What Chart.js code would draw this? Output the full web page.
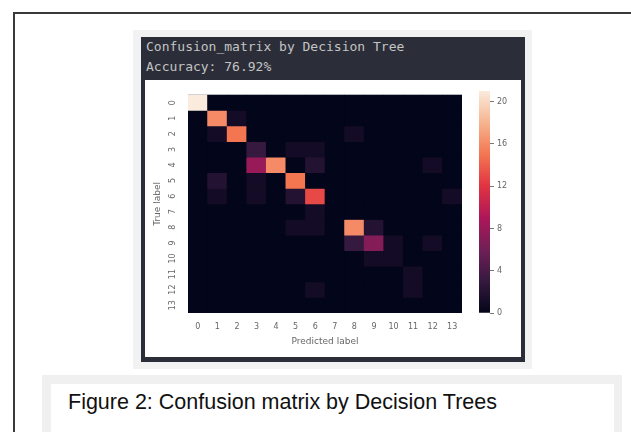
<!DOCTYPE html>
<html>
<head>
<meta charset="utf-8">
<script src="https://cdn.jsdelivr.net/npm/chart.js@4.4.0/dist/chart.umd.min.js"></script>
<style>
  body { margin:0; background:#fff; width:631px; height:432px; overflow:hidden; position:relative; font-family:"DejaVu Sans", sans-serif; }
  #frame { position:absolute; left:13px; top:12px; width:700px; height:500px; border-left:2px solid #3a3a3a; border-top:2px solid #3a3a3a; }
  #figbox { position:absolute; left:133px; top:30px; width:399px; height:339px; background:#f2f2f2; }
  #dark { position:absolute; left:141px; top:37px; width:384px; height:325px; background:#2b2e38; }
  #head { position:absolute; left:146px; top:37px; color:#c4c4c4; font:13px "DejaVu Sans Mono", monospace; line-height:20px; white-space:pre; }
  #white { position:absolute; left:145px; top:80px; width:376px; height:277px; background:#fff; }
  #matrix { position:absolute; left:145px; top:80px; }
  #cbar { position:absolute; left:470px; top:80px; }
  #capbox { position:absolute; left:42px; top:375px; width:580px; height:70px; background:#f0f0f0; }
  #capwhite { position:absolute; left:51px; top:384px; width:563px; height:60px; background:#fff; }
  #caption { position:absolute; left:68px; top:390px; font:21.5px "Liberation Sans", Arial, sans-serif; color:#111; white-space:pre; }
</style>
</head>
<body>
<div id="frame"></div>
<div id="figbox"></div>
<div id="dark"></div>
<div id="head">Confusion_matrix by Decision Tree
Accuracy: 76.92%</div>
<div id="white"></div>
<canvas id="matrix" width="330" height="277"></canvas>
<canvas id="cbar" width="51" height="277"></canvas>
<div id="capbox"></div>
<div id="capwhite"></div>
<div id="caption">Figure 2: Confusion matrix by Decision Trees</div>
<script>
const trueLabels = ['0','1','2','3','4','5','6','7','8','9','10','11','12','13']
const predLabels = ['0','1','2','3','4','5','6','7','8','9','10','11','12','13']
// rows = true label, columns = predicted label
const counts = [
  [21,0,0,0,0,0,0,0,0,0,0,0,0,0],
  [0,16,1,0,0,0,0,0,0,0,0,0,0,0],
  [0,1,15,0,0,0,0,0,1,0,0,0,0,0],
  [0,0,0,3,0,1,1,0,0,0,0,0,0,0],
  [0,0,0,8,16,0,2,0,0,0,0,0,1,0],
  [0,2,0,1,0,15,0,0,0,0,0,0,0,0],
  [0,1,0,1,0,2,13,0,0,0,0,0,0,1],
  [0,0,0,0,0,0,1,0,0,0,0,0,0,0],
  [0,0,0,0,0,1,1,0,16,2,0,0,0,0],
  [0,0,0,0,0,0,0,0,3,7,1,0,1,0],
  [0,0,0,0,0,0,0,0,0,1,1,0,0,0],
  [0,0,0,0,0,0,0,0,0,0,0,1,0,0],
  [0,0,0,0,0,0,1,0,0,0,0,1,0,0],
  [0,0,0,0,0,0,0,0,0,0,0,0,0,0]
]
const vmax = 21
const cbarTicks = [0,4,8,12,16,20]

// seaborn "rocket" colormap, sampled
const rocketStops = ['#03051a','#35193e','#701f57','#ad1759','#e13342','#f37651','#f6b48f','#faebdd']

function hexRgb(h){
  return [parseInt(h.slice(1,3),16), parseInt(h.slice(3,5),16), parseInt(h.slice(5,7),16)]
}
function rocket(t){
  t = Math.max(0, Math.min(1, t))
  const n = rocketStops.length - 1
  const i = Math.min(n - 1, Math.floor(t * n))
  const f = t * n - i
  const a = hexRgb(rocketStops[i]), b = hexRgb(rocketStops[i+1])
  const c = a.map((v,k) => Math.round(v + (b[k]-v)*f))
  return 'rgb(' + c.join(',') + ')'
}

const tickFont = {family:'DejaVu Sans', size:8}
const grey = '#666'

const areaBg = {
  id: 'areaBg',
  beforeDatasetsDraw(chart){
    const {ctx, chartArea} = chart
    ctx.save()
    ctx.fillStyle = rocketStops[0]
    ctx.fillRect(chartArea.left, chartArea.top, chartArea.right - chartArea.left, chartArea.bottom - chartArea.top)
    ctx.restore()
  }
}

new Chart(document.getElementById('matrix'), {
  type: 'bar',
  data: {
    labels: predLabels,
    datasets: counts.map((row, r) => ({
      data: row.map(() => [r, r + 1]),
      backgroundColor: row.map(v => rocket(v / vmax)),
      borderWidth: 0,
      barPercentage: 1,
      categoryPercentage: 1,
      grouped: false
    }))
  },
  options: {
    responsive: false,
    animation: false,
    layout: {padding: {top: 11, right: 13}},
    plugins: {legend: {display: false}, tooltip: {enabled: false}},
    scales: {
      x: {
        grid: {display: false, drawTicks: false},
        border: {display: false},
        ticks: {color: grey, font: tickFont, padding: 9, maxRotation: 0, autoSkip: false},
        title: {display: true, text: 'Predicted label', color: grey, font: {family:'DejaVu Sans', size: 9}, padding: {top: 4, bottom: 10}},
        afterFit: s => { s.height = 44 }
      },
      y: {
        type: 'linear',
        reverse: true,
        min: 0,
        max: trueLabels.length,
        grid: {display: false, drawTicks: false},
        border: {display: false},
        afterBuildTicks: s => { s.ticks = trueLabels.map((_, i) => ({value: i + 0.5})) },
        ticks: {
          color: grey, font: tickFont, padding: 10, autoSkip: false,
          minRotation: 90, maxRotation: 90, crossAlign: 'center',
          callback: v => trueLabels[Math.round(v - 0.5)]
        },
        title: {display: true, text: 'True label', color: grey, font: {family:'DejaVu Sans', size: 9}, padding: {top: 7, bottom: 4}},
        afterFit: s => { s.width = 43 }
      }
    }
  },
  plugins: [areaBg]
})

function cbarGradient(chart){
  const area = chart.chartArea
  if (!area) return rocketStops[0]
  const g = chart.ctx.createLinearGradient(0, area.bottom, 0, area.top)
  rocketStops.forEach((c, i) => g.addColorStop(i / (rocketStops.length - 1), c))
  return g
}

new Chart(document.getElementById('cbar'), {
  type: 'bar',
  data: {
    labels: [''],
    datasets: [{
      data: [[0, vmax]],
      backgroundColor: ctx => cbarGradient(ctx.chart),
      borderWidth: 0,
      barPercentage: 1,
      categoryPercentage: 1
    }]
  },
  options: {
    responsive: false,
    animation: false,
    layout: {padding: {top: 11, left: 9, bottom: 44}},
    plugins: {legend: {display: false}, tooltip: {enabled: false}},
    scales: {
      x: {display: false},
      y: {
        position: 'right',
        min: 0,
        max: vmax,
        afterBuildTicks: s => { s.ticks = cbarTicks.map(v => ({value: v})) },
        grid: {drawOnChartArea: false, tickLength: 4, tickColor: '#777'},
        border: {display: false},
        ticks: {color: grey, font: tickFont, padding: 3},
        afterFit: s => { s.width = 31 }
      }
    }
  }
})
</script>
</body>
</html>
